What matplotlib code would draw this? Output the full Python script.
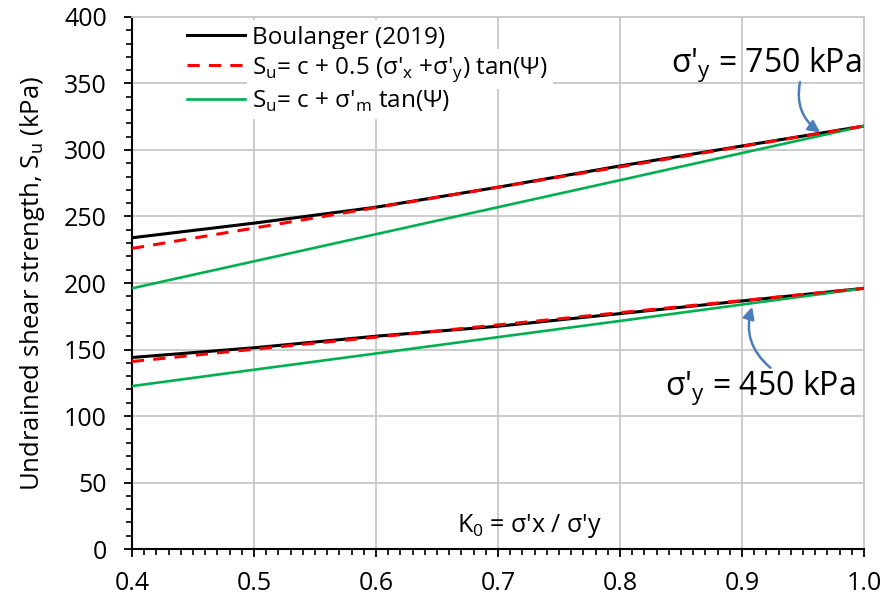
import matplotlib
matplotlib.use("Agg")
import matplotlib.pyplot as plt
from matplotlib.ticker import MultipleLocator

plt.rcParams['font.family'] = ['Open Sans', 'DejaVu Sans']
plt.rcParams['mathtext.fontset'] = 'custom'
plt.rcParams['mathtext.rm'] = 'Open Sans'

# K0 = sigma'x / sigma'y
k0 = [0.4, 0.5, 0.6, 0.7, 0.8, 0.9, 1.0]

# sigma'y = 750 kPa
boul_750 = [234, 245, 257, 272, 288, 303, 318]
half_750 = [226, 241.3, 256.7, 272, 287.3, 302.7, 318]
mean_750 = [196, 216.3, 236.7, 257, 277.3, 297.7, 318]

# sigma'y = 450 kPa
boul_450 = [144, 151.3, 160, 167.5, 177, 186.5, 196]
half_450 = [141, 150.2, 159.3, 168.5, 177.7, 186.8, 196]
mean_450 = [122.5, 134.8, 147, 159.3, 171.5, 183.8, 196]

lbl_boul = "Boulanger (2019)"
lbl_half = "S$_\\mathregular{u}$= c + 0.5 (σ'$_\\mathregular{x}$ +σ'$_\\mathregular{y}$) tan(Ψ)"
lbl_mean = "S$_\\mathregular{u}$= c + σ'$_\\mathregular{m}$ tan(Ψ)"

fig = plt.figure(figsize=(8.88, 6.04), dpi=100)
ax = fig.add_axes([0.1486, 0.091, 0.8244, 0.8809])

ax.plot(k0, boul_750, color='black', lw=2.2, label=lbl_boul, zorder=3)
ax.plot(k0, half_750, color='#FF0000', lw=2.2, ls=(0, (4, 3)), label=lbl_half, zorder=4)
ax.plot(k0, mean_750, color='#00B050', lw=1.9, label=lbl_mean, zorder=3)
ax.plot(k0, boul_450, color='black', lw=2.2, zorder=3)
ax.plot(k0, half_450, color='#FF0000', lw=2.2, ls=(0, (4, 3)), zorder=4)
ax.plot(k0, mean_450, color='#00B050', lw=1.9, zorder=3)

ax.set_xlim(0.4, 1.0)
ax.set_ylim(0, 400)
ax.xaxis.set_major_locator(MultipleLocator(0.1))
ax.xaxis.set_minor_locator(MultipleLocator(0.01))
ax.yaxis.set_major_locator(MultipleLocator(50))
ax.yaxis.set_minor_locator(MultipleLocator(10))
ax.set_xticks([0.4, 0.5, 0.6, 0.7, 0.8, 0.9, 1.0])
ax.set_xticklabels(['0.4', '0.5', '0.6', '0.7', '0.8', '0.9', '1.0'])

ax.grid(True, which='major', color='#C8C8C8', lw=1.3, zorder=0)
ax.tick_params(which='major', direction='out', length=6, width=1.3, labelsize=18)
ax.tick_params(axis='y', which='major', pad=12)
ax.tick_params(axis='x', which='major', pad=10)
ax.tick_params(which='minor', direction='out', length=4, width=1.2)
for s in ['left', 'bottom']:
    ax.spines[s].set_color('black')
    ax.spines[s].set_linewidth(1.5)
for s in ['top', 'right']:
    ax.spines[s].set_color('#C8C8C8')
    ax.spines[s].set_linewidth(1.3)

ax.set_ylabel("Undrained shear strength, S$_\\mathregular{u}$ (kPa)", fontsize=18.5, labelpad=12)
ax.text(0.726, 17, "K$_\\mathregular{0}$ = σ'x / σ'y", fontsize=18, ha='center', va='center')

# legend: no frame, white box only behind the entry texts
leg = ax.legend(loc='upper left', bbox_to_anchor=(0.07, 0.99), fontsize=17.5,
                frameon=False, handlelength=2.4, handletextpad=0.3,
                labelspacing=0.2, borderpad=0.15, borderaxespad=0)
leg.set_zorder(5)
for t in leg.get_texts():
    t.set_bbox(dict(facecolor='white', edgecolor='none', pad=4))

arrow_kw = dict(arrowstyle='-|>,head_length=0.7,head_width=0.35', color='#4A7EBB', lw=1.8)
ax.text(0.998, 364, "σ'$_\\mathregular{y}$ = 750 kPa", fontsize=23, ha='right', va='center')
ax.annotate("", xy=(0.966, 312), xytext=(0.948, 353),
            arrowprops=dict(connectionstyle='arc3,rad=0.35', **arrow_kw))
ax.text(0.993, 121, "σ'$_\\mathregular{y}$ = 450 kPa", fontsize=23, ha='right', va='center')
ax.annotate("", xy=(0.909, 184), xytext=(0.925, 135),
            arrowprops=dict(connectionstyle='arc3,rad=-0.35', **arrow_kw))

fig.savefig("out.png", dpi=100)
